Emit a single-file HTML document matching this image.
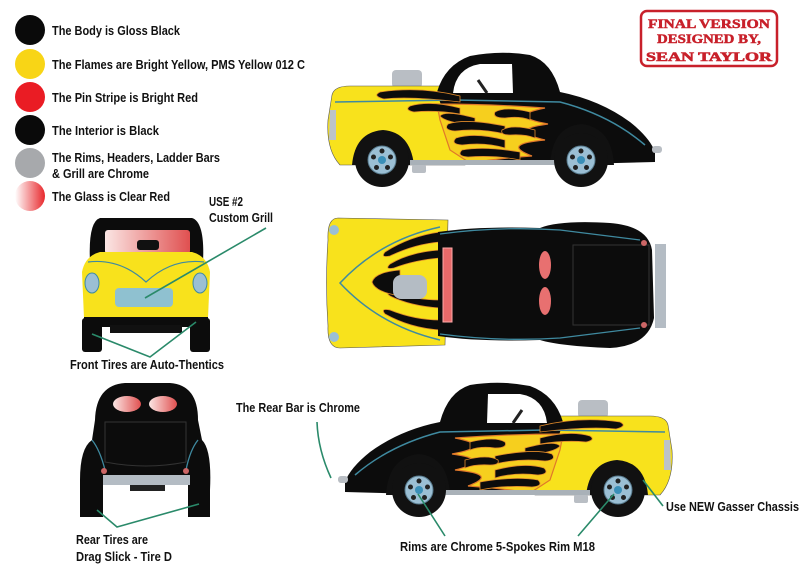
<!DOCTYPE html>
<html><head><meta charset="utf-8"><style>
html,body{margin:0;padding:0;background:#fff;}
svg{display:block}
text{font-family:"Liberation Sans Narrow","Liberation Sans",sans-serif;font-weight:bold;fill:#111;font-size:12.5px}
.st{font-family:"Liberation Serif",serif;fill:#c8202a;font-weight:bold}
.ln{stroke:#2a8a6a;stroke-width:1.6;fill:none}
</style></head><body>
<svg width="809" height="577" viewBox="0 0 809 577" xmlns="http://www.w3.org/2000/svg">
<defs>
<linearGradient id="gl" x1="0" x2="1"><stop offset="0" stop-color="#fff"/><stop offset="1" stop-color="#e8282c"/></linearGradient>
<linearGradient id="gw" x1="0" x2="1"><stop offset="0" stop-color="#fbe6e4"/><stop offset="1" stop-color="#e05050"/></linearGradient>
<g id="wheel">
<circle r="27" fill="#111"/>
<circle r="14" fill="#9bbfd4" stroke="#5a7d90" stroke-width="1"/>
<circle r="4" fill="#3a8fb8"/>
<g fill="#222"><circle cx="0" cy="-9" r="2.5"/><circle cx="8.5" cy="-3" r="2.5"/><circle cx="5.5" cy="7.5" r="2.5"/><circle cx="-5.5" cy="7.5" r="2.5"/><circle cx="-8.5" cy="-3" r="2.5"/></g>
</g>
<g id="car">
<rect x="392" y="70" width="30" height="18" rx="4" fill="#b9bec4"/>
<path d="M332,95 Q334,86 350,86 L460,86 L465,165 L340,165 Q326,150 328,120 Z" fill="#f8e21c" stroke="#555" stroke-width="0.6"/>
<path d="M330,110 L336,110 L336,140 L329,140 Z" fill="#bcc3c8"/>
<path d="M437,92 Q445,65 470,56 Q500,50 530,55 Q552,62 560,92 Q600,100 630,122 Q650,138 655,152 L655,162 L540,165 L470,165 Q455,150 450,125 Q440,105 437,92 Z" fill="#0c0c0c"/>
<path d="M453,93 Q456,68 480,64 L512,64 L513,93 Z" fill="#fff"/>
<line x1="478" y1="80" x2="487" y2="93" stroke="#222" stroke-width="3"/>
<!-- yellow flame base over black -->
<path d="M437,104 Q490,104 545,108 Q505,116 548,124 Q505,130 545,140 Q500,144 532,156 Q500,158 470,163 L450,150 L440,120 Z" fill="#f6cf1e" stroke="#e0782a" stroke-width="1.2"/>
<path d="M335,102 L455,100 L560,102 Q610,115 645,145" stroke="#3f8aa0" stroke-width="1.5" fill="none"/>
<g fill="#0c0c0c" stroke="#e08a2a" stroke-width="0.8">
<path d="M460,96 Q420,86 380,92 Q372,96 384,99 Q410,96 460,102 Z"/>
<path d="M460,108 Q430,100 410,106 Q404,110 414,112 Q435,110 460,114 Z"/>
<path d="M475,118 Q445,110 440,116 Q444,122 475,126 Z"/>
<path d="M505,126 Q465,118 448,124 Q443,130 455,131 Q480,128 505,134 Z"/>
<path d="M530,112 Q505,106 495,112 Q492,118 505,118 Q520,116 530,120 Z"/>
<path d="M505,140 Q475,132 456,138 Q450,144 462,145 Q485,142 505,148 Z"/>
<path d="M535,130 Q512,124 502,130 Q500,135 510,135 Q525,134 535,138 Z"/>
<path d="M520,152 Q485,146 462,150 Q456,156 468,157 Q495,155 520,160 Z"/>
</g>
<path d="M352,165 Q355,132 383,130 Q410,132 414,165 Z" fill="#111"/>
<path d="M550,165 Q552,126 582,124 Q612,128 614,165 Z" fill="#111"/>
<rect x="410" y="160" width="145" height="5" fill="#a9b1b8"/>
<rect x="412" y="165" width="14" height="8" rx="2" fill="#b9bec4"/>
<rect x="652" y="146" width="10" height="7" rx="3" fill="#b9bec4"/>
<use href="#wheel" x="382" y="160"/>
<use href="#wheel" x="581" y="160"/>
</g>
<g id="flm" fill="#0c0c0c" stroke="#e08a2a" stroke-width="0.8">
<path d="M440,232 Q410,236 385,252 Q380,258 390,256 Q415,244 440,242 Z"/>
<path d="M440,250 Q410,252 390,264 Q384,270 394,268 Q415,260 440,258 Z"/>
<path d="M440,308 Q410,306 390,296 Q384,292 394,292 Q415,300 440,300 Z"/>
<path d="M440,330 Q410,328 385,314 Q380,308 390,310 Q415,320 440,320 Z"/>
<path d="M400,270 Q375,272 372,282 Q375,292 400,296 Z"/>
</g>
</defs>

<circle cx="30" cy="30" r="15" fill="#0a0a0a"/>
<circle cx="30" cy="64" r="15" fill="#f8d516"/>
<circle cx="30" cy="97" r="15" fill="#ea1c24"/>
<circle cx="30" cy="130" r="15" fill="#0a0a0a"/>
<circle cx="30" cy="163" r="15" fill="#a7a9ac"/>
<circle cx="30" cy="196" r="15" fill="url(#gl)"/>
<text x="52" y="35" textLength="128" lengthAdjust="spacingAndGlyphs">The Body is Gloss Black</text>
<text x="52" y="69" textLength="253" lengthAdjust="spacingAndGlyphs">The Flames are Bright Yellow, PMS Yellow 012 C</text>
<text x="52" y="102" textLength="146" lengthAdjust="spacingAndGlyphs">The Pin Stripe is Bright Red</text>
<text x="52" y="135" textLength="107" lengthAdjust="spacingAndGlyphs">The Interior is Black</text>
<text x="52" y="162" textLength="168" lengthAdjust="spacingAndGlyphs">The Rims, Headers, Ladder Bars</text>
<text x="52" y="178" textLength="97" lengthAdjust="spacingAndGlyphs">&amp; Grill are Chrome</text>
<text x="52" y="201" textLength="118" lengthAdjust="spacingAndGlyphs">The Glass is Clear Red</text>

<rect x="641" y="11" width="136" height="55" rx="6" fill="#fff" stroke="#c8202a" stroke-width="2.5"/>
<text class="st" x="709" y="28" text-anchor="middle" font-size="16" textLength="122" lengthAdjust="spacingAndGlyphs" stroke="#c8202a" stroke-width="0.5">FINAL VERSION</text>
<text class="st" x="709" y="43" text-anchor="middle" font-size="15" textLength="104" lengthAdjust="spacingAndGlyphs" stroke="#c8202a" stroke-width="0.5">DESIGNED BY,</text>
<text class="st" x="709" y="61" text-anchor="middle" font-size="19" textLength="126" lengthAdjust="spacingAndGlyphs" stroke="#c8202a" stroke-width="0.6">SEAN TAYLOR</text>

<use href="#car"/>
<use href="#car" transform="translate(1000,330) scale(-1,1)"/>

<path d="M338,218 Q327,218 328,240 Q325,283 328,326 Q327,348 340,348 L445,345 L448,220 Z" fill="#f8e21c" stroke="#555" stroke-width="0.6"/>
<path d="M440,227 Q380,240 340,283 Q380,326 440,340" stroke="#3f8aa0" stroke-width="1.5" fill="none"/>
<circle cx="334" cy="230" r="5" fill="#9bbfd4"/><circle cx="334" cy="337" r="5" fill="#9bbfd4"/>
<use href="#flm"/>
<rect x="393" y="275" width="34" height="24" rx="8" fill="#b4bcc4"/>
<path d="M438,232 Q480,226 540,228 Q560,220 610,223 Q648,226 652,250 L654,318 Q648,346 610,348 Q560,346 540,340 Q480,342 438,336 Z" fill="#0c0c0c"/>
<path d="M440,234 Q500,226 560,230 L640,240 M440,334 Q500,342 560,338 L640,328" stroke="#3f8aa0" stroke-width="1.3" fill="none"/>
<rect x="443" y="248" width="9" height="74" fill="#e86a6a" stroke="#faa" stroke-width="1"/>
<ellipse cx="545" cy="265" rx="6" ry="14" fill="#e87070"/>
<ellipse cx="545" cy="301" rx="6" ry="14" fill="#e87070"/>
<rect x="573" y="245" width="76" height="80" fill="none" stroke="#333" stroke-width="1"/>
<circle cx="644" cy="243" r="3" fill="#c66"/><circle cx="644" cy="325" r="3" fill="#c66"/>
<rect x="655" y="244" width="11" height="84" fill="#b4bcc4"/>

<path d="M90,262 Q88,222 100,218 L192,218 Q205,222 203,262 Z" fill="#0c0c0c"/>
<rect x="105" y="230" width="85" height="24" rx="3" fill="url(#gw)"/>
<rect x="137" y="240" width="22" height="10" rx="3" fill="#111"/>
<path d="M82,272 Q85,256 100,252 L192,252 Q207,256 210,272 L208,318 L84,318 Z" fill="#f8e21c"/>
<path d="M88,262 Q120,258 146,282 Q172,258 204,262" stroke="#3f8aa0" stroke-width="1.2" fill="none"/>
<ellipse cx="92" cy="283" rx="7" ry="10" fill="#9bbfd4" stroke="#3f8aa0"/>
<ellipse cx="200" cy="283" rx="7" ry="10" fill="#9bbfd4" stroke="#3f8aa0"/>
<rect x="115" y="288" width="58" height="19" rx="4" fill="#8fc1d0"/>
<rect x="84" y="317" width="124" height="10" fill="#0c0c0c"/>
<rect x="110" y="325" width="72" height="8" fill="#111"/>
<rect x="82" y="318" width="20" height="34" rx="3" fill="#0c0c0c"/>
<rect x="190" y="318" width="20" height="34" rx="3" fill="#0c0c0c"/>

<path d="M95,420 Q96,385 125,383 L170,383 Q198,385 198,420 L202,440 Q212,450 210,490 L210,517 L188,517 L188,485 L103,485 L103,517 L80,517 L80,480 Q80,448 92,440 Z" fill="#0c0c0c"/>
<ellipse cx="127" cy="404" rx="14" ry="8" fill="url(#gw)"/>
<ellipse cx="163" cy="404" rx="14" ry="8" fill="url(#gw)"/>
<path d="M105,422 L186,422 L186,462 Q146,470 105,462 Z" fill="none" stroke="#333" stroke-width="1"/>
<path d="M92,440 Q100,450 105,470 M198,440 Q190,450 186,470" stroke="#3f8aa0" stroke-width="1.3" fill="none"/>
<circle cx="104" cy="471" r="3" fill="#c66"/><circle cx="186" cy="471" r="3" fill="#c66"/>
<rect x="103" y="475" width="87" height="10" fill="#b4bcc4"/>
<rect x="130" y="485" width="35" height="6" fill="#222"/>

<text x="209" y="206" textLength="34" lengthAdjust="spacingAndGlyphs">USE #2</text>
<text x="209" y="222" textLength="64" lengthAdjust="spacingAndGlyphs">Custom Grill</text>
<path class="ln" d="M266,228 L145,298"/>
<text x="70" y="369" textLength="154" lengthAdjust="spacingAndGlyphs">Front Tires are Auto-Thentics</text>
<path class="ln" d="M92,334 L150,357 L196,322"/>
<text x="236" y="412" textLength="124" lengthAdjust="spacingAndGlyphs">The Rear Bar is Chrome</text>
<path class="ln" d="M317,422 Q318,450 331,478"/>
<text x="76" y="544" textLength="72" lengthAdjust="spacingAndGlyphs">Rear Tires are</text>
<text x="76" y="561" textLength="96" lengthAdjust="spacingAndGlyphs">Drag Slick - Tire D</text>
<path class="ln" d="M97,510 L117,527 L199,504"/>
<text x="400" y="551" textLength="195" lengthAdjust="spacingAndGlyphs">Rims are Chrome 5-Spokes Rim M18</text>
<path class="ln" d="M445,536 L418,494 M578,536 L614,494"/>
<text x="666" y="511" textLength="133" lengthAdjust="spacingAndGlyphs">Use NEW Gasser Chassis</text>
<path class="ln" d="M663,506 L643,480"/>
</svg>
</body></html>
